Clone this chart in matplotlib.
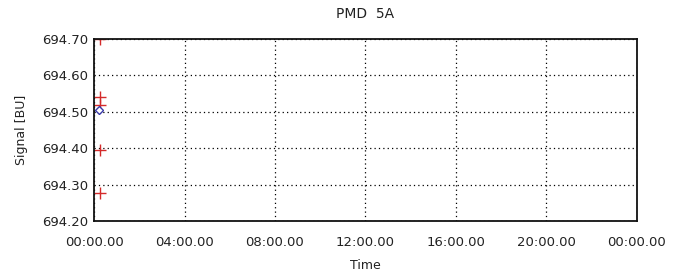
import matplotlib
matplotlib.use("Agg")
from matplotlib import pyplot as plt

# time in hours since start
red_t = [0.25, 0.25, 0.25, 0.25, 0.25]
red_sig = [694.70, 694.54, 694.52, 694.395, 694.277]
blue_t = [0.2]
blue_sig = [694.505]

xticks = [0, 4, 8, 12, 16, 20, 24]
xlabels = ["00:00.00", "04:00.00", "08:00.00", "12:00.00",
           "16:00.00", "20:00.00", "00:00.00"]
yticks = [694.20, 694.30, 694.40, 694.50, 694.60, 694.70]

plt.rcParams['font.family'] = ['DejaVu Sans']

fig = plt.figure(figsize=(6.74, 2.80), dpi=100)
ax = fig.add_axes([0.1395, 0.2107, 0.8055, 0.65])

ax.plot(red_t, red_sig, linestyle='none', marker='+', color='#d42a2a',
        markersize=9, markeredgewidth=1.0)
ax.plot(blue_t, blue_sig, linestyle='none', marker='D', color='#3a3aa8',
        markerfacecolor='white', markersize=4, markeredgewidth=1.0)

ax.set_xlim(0, 24)
ax.set_ylim(694.20, 694.70)
ax.set_xticks(xticks)
ax.set_xticklabels(xlabels)
ax.set_yticks(yticks)
ax.set_yticklabels(["%.2f" % v for v in yticks])

ax.grid(True, color='black', linestyle=(0, (1, 2.5)), linewidth=0.9)
ax.tick_params(length=0, labelsize=9.5, colors='#222222')
ax.tick_params(axis='x', pad=11)
ax.tick_params(axis='y', pad=4)
for s in ax.spines.values():
    s.set_linewidth(1.3)
    s.set_color('#111111')

ax.set_title("PMD  5A", fontsize=10, pad=15, color='#222222')
ax.set_xlabel("Time", fontsize=9, labelpad=7, color='#222222')
ax.set_ylabel("Signal [BU]", fontsize=9, labelpad=10, color='#222222')

plt.savefig('out.png', dpi=100)
plt.close()
